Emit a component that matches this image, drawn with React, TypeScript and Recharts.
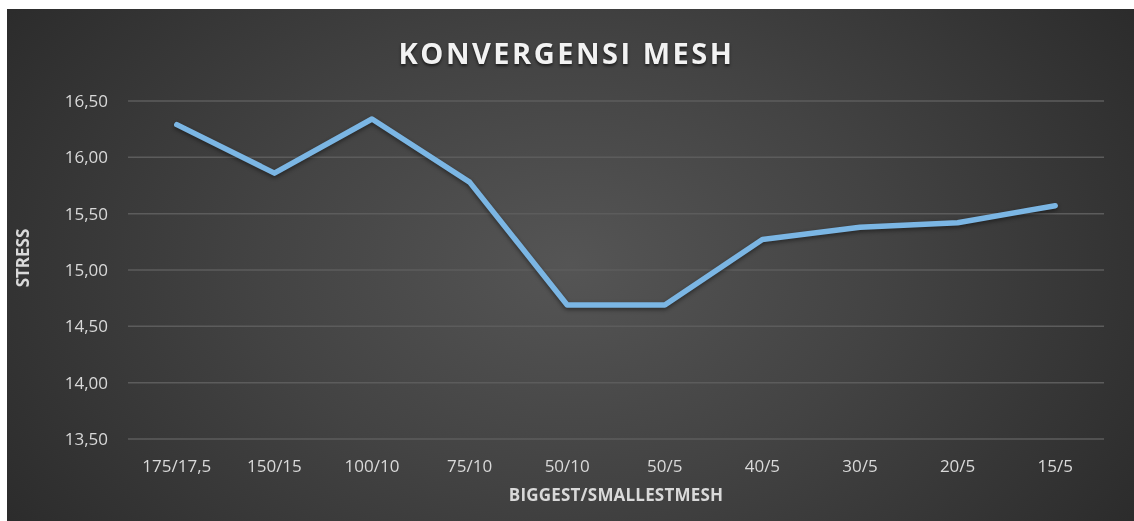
import { LineChart, Line, XAxis, YAxis, CartesianGrid } from "recharts";

const categories = ["175/17,5", "150/15", "100/10", "75/10", "50/10", "50/5", "40/5", "30/5", "20/5", "15/5"];
const stress = [16.29, 15.86, 16.34, 15.78, 14.69, 14.69, 15.27, 15.38, 15.42, 15.57];
const yTicks = [13.5, 14, 14.5, 15, 15.5, 16, 16.5];

const data = categories.map((c, i) => ({ mesh: c, stress: stress[i] }));

const W = 1127;
const H = 512;
const font = "'Open Sans', 'Liberation Sans', sans-serif";

const fmt = (v: number) => v.toFixed(2).replace(".", ",");

export default function App() {
  return (
    <div
      style={{
        position: "fixed",
        left: 7,
        top: 9,
        width: W,
        height: H,
        background:
          "radial-gradient(ellipse 62% 95% at 50% 50%, #555555 0%, #434343 45%, #2a2a2a 100%)",
        fontFamily: font,
      }}
    >
      <div
        style={{
          position: "absolute",
          left: 0,
          top: 24,
          width: W - 8,
          textAlign: "center",
          color: "#f2f2f2",
          fontSize: 29,
          fontWeight: 700,
          letterSpacing: 2.5,
          textShadow: "0 2px 3px rgba(0,0,0,0.6)",
        }}
      >
        KONVERGENSI MESH
      </div>
      <LineChart width={W} height={H} data={data} margin={{ top: 92, right: 30, bottom: 0, left: 0 }}>
        <CartesianGrid vertical={false} stroke="#5c5c5c" strokeWidth={1.5} />
        <XAxis
          dataKey="mesh"
          padding={{ left: 48.8, right: 48.8 }}
          axisLine={false}
          tickLine={false}
          tickSize={0}
          tickMargin={21}
          height={82}
          interval={0}
          tick={{ fill: "#d9d9d9", fontSize: 17, fontFamily: font }}
        />
        <YAxis
          domain={[13.5, 16.5]}
          ticks={yTicks}
          tickFormatter={fmt}
          axisLine={false}
          tickLine={false}
          tickSize={0}
          tickMargin={20}
          width={121}
          tick={{ fill: "#d9d9d9", fontSize: 17, fontFamily: font }}
        />
        <Line
          type="linear"
          dataKey="stress"
          stroke="#7bb6e4"
          strokeWidth={5.5}
          strokeLinecap="round"
          strokeLinejoin="round"
          dot={false}
          activeDot={false}
          isAnimationActive={false}
          style={{ filter: "drop-shadow(0px 2px 2px rgba(0,0,0,0.45))" }}
        />
      </LineChart>
      <div
        style={{
          position: "absolute",
          left: 121,
          top: 474,
          width: 976,
          textAlign: "center",
          color: "#d9d9d9",
          fontSize: 17,
          fontWeight: 700,
          letterSpacing: 0.2,
        }}
      >
        BIGGEST/SMALLESTMESH
      </div>
      <div
        style={{
          position: "absolute",
          left: 15,
          top: 249,
          transform: "translate(-50%, -50%) rotate(-90deg)",
          color: "#d9d9d9",
          fontSize: 17,
          fontWeight: 700,
          whiteSpace: "nowrap",
        }}
      >
        STRESS
      </div>
    </div>
  );
}
